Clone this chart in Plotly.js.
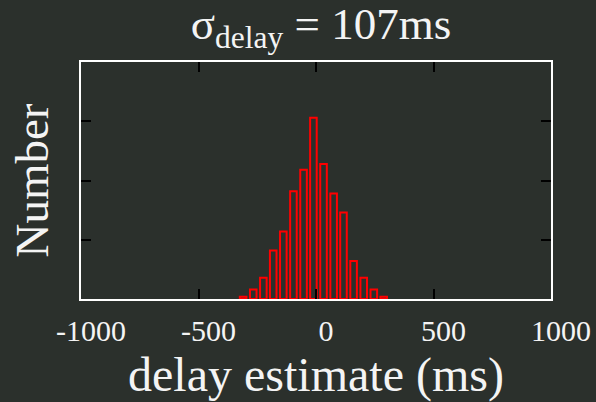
<!DOCTYPE html>
<html>
<head>
<meta charset="utf-8">
<script src="https://cdn.plot.ly/plotly-3.0.1.min.js"></script>
<style>html,body{margin:0;padding:0;background:#2b302c;}#chart{width:596px;height:402px;}</style>
</head>
<body>
<div id="chart"></div>
<script>
// Histogram bin centres (ms) and counts
const binCenters = [-310, -267, -224, -182, -139, -96, -53, -11, 32, 75, 117, 160, 203, 246, 288];
const counts = [2, 8, 18, 41, 57, 91, 109, 153, 114, 89, 73, 32, 18, 8, 2];
const xTickVals = [-1000, -500, 0, 500, 1000];
const xTickText = ['-1000', '-500', '0', '500', '1000'];
const xMarkVals = [-500, 0, 500];
const yTickValsLeft = [50, 100, 150];
const yTickValsRight = [50, 100, 150, 200];

const serif = 'Liberation Serif, Times New Roman, serif';
const bars = {
  type: 'bar',
  x: binCenters,
  y: counts,
  width: 28,
  marker: {color: 'rgba(0,0,0,0)', line: {color: '#ff0000', width: 2}},
  hoverinfo: 'x+y'
};
const tickHolder = {type: 'scatter', mode: 'markers', x: [], y: [], xaxis: 'x2', yaxis: 'y2', showlegend: false};
const layout = {
  width: 596, height: 402,
  paper_bgcolor: '#2b302c', plot_bgcolor: 'rgba(0,0,0,0)',
  margin: {l: 81, r: 45, t: 62, b: 103, pad: 0},
  showlegend: false,
  font: {family: serif, color: '#f4f4f4'},
  title: {
    text: 'σ<sub>delay</sub> = 107ms',
    font: {family: serif, size: 45, color: '#f4f4f4'},
    xref: 'container', x: 0.5386, xanchor: 'center',
    yref: 'container', y: 0.982, yanchor: 'top'
  },
  xaxis: {
    range: [-1000, 1000],
    tickmode: 'array', tickvals: xTickVals, ticktext: xTickText,
    ticks: '', showgrid: false, zeroline: false,
    showline: true, linecolor: '#ffffff', linewidth: 2, mirror: true,
    tickfont: {family: serif, size: 30, color: '#f4f4f4'},
    ticklabelstandoff: 4, ticklabelshift: 10,
    title: {text: 'delay estimate (ms)', font: {family: serif, size: 48, color: '#f4f4f4'}, standoff: 13}
  },
  xaxis2: {
    overlaying: 'x', matches: 'x', side: 'bottom', range: [-1000, 1000],
    tickmode: 'array', tickvals: xMarkVals,
    ticks: 'inside', ticklen: 10, tickwidth: 2, tickcolor: '#000000',
    showticklabels: false, showgrid: false, zeroline: false,
    showline: false, mirror: 'allticks'
  },
  yaxis: {
    range: [0, 200],
    tickmode: 'array', tickvals: yTickValsLeft,
    ticks: 'inside', ticklen: 10, tickwidth: 2, tickcolor: '#000000',
    showticklabels: false, showgrid: false, zeroline: false,
    showline: true, linecolor: '#ffffff', linewidth: 2, mirror: true,
    title: {text: 'Number', font: {family: serif, size: 47, color: '#f4f4f4'}, standoff: 16}
  },
  yaxis2: {
    overlaying: 'y', matches: 'y', side: 'right', range: [0, 200],
    tickmode: 'array', tickvals: yTickValsRight,
    ticks: 'inside', ticklen: 10, tickwidth: 2, tickcolor: '#000000',
    showticklabels: false, showgrid: false, zeroline: false, showline: false
  }
};
Plotly.newPlot('chart', [bars, tickHolder], layout, {displayModeBar: false, staticPlot: true});
</script>
</body>
</html>
